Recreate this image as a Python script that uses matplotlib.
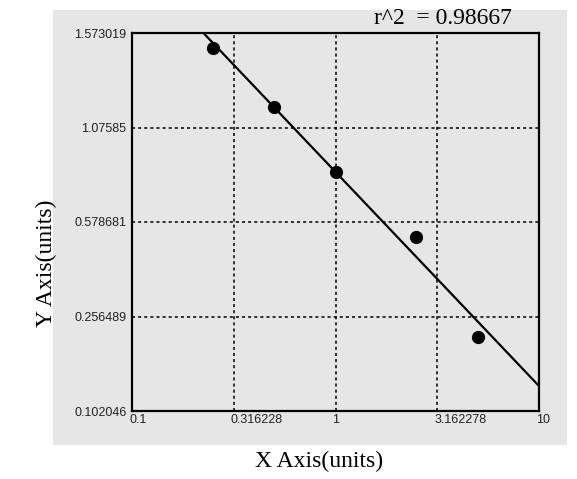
import numpy as np
import matplotlib
matplotlib.use("Agg")
import matplotlib.pyplot as plt
from matplotlib.patches import Rectangle
from matplotlib.transforms import ScaledTranslation

# ---- data ----
x_vals = [0.25, 0.5, 1.0, 2.5, 5.0]
y_vals = [1.494, 1.184, 0.842, 0.527, 0.223]
x_ticks = [0.1, 0.316228, 1.0, 3.162278, 10.0]
x_tick_labels = ["0.1", "0.316228", "1", "3.162278", "10"]
y_ticks = [0.102046, 0.256489, 0.578681, 1.07585, 1.573019]
y_tick_labels = ["0.102046", "0.256489", "0.578681", "1.07585", "1.573019"]
r2_text = "r^2  = 0.98667"

# piecewise-linear y scale (tick values evenly spaced on screen)
yt = np.array(y_ticks)
pos = np.arange(len(yt), dtype=float)
s_lo = yt[1] - yt[0]
s_hi = yt[-1] - yt[-2]


def fwd(y):
    y = np.asarray(y, dtype=float)
    return np.where(y < yt[0], (y - yt[0]) / s_lo,
                    np.where(y > yt[-1], pos[-1] + (y - yt[-1]) / s_hi,
                             np.interp(y, yt, pos)))


def inv(v):
    v = np.asarray(v, dtype=float)
    return np.where(v < 0, yt[0] + v * s_lo,
                    np.where(v > pos[-1], yt[-1] + (v - pos[-1]) * s_hi,
                             np.interp(v, pos, yt)))


W, H = 577, 479
fig = plt.figure(figsize=(W / 100, H / 100), dpi=100)
fig.patch.set_facecolor("white")

panel_col = "#e6e6e6"
fig.patches.append(Rectangle((53 / W, 1 - 445 / H), (567 - 53) / W, (445 - 10) / H,
                             transform=fig.transFigure, facecolor=panel_col,
                             edgecolor="none", zorder=-10))

ax = fig.add_axes([132 / W, 1 - 411 / H, 407 / W, 378 / H])
ax.set_zorder(1)
ax.set_facecolor(panel_col)
ax.set_xscale("log")
ax.set_yscale("function", functions=(fwd, inv))
ax.set_xlim(0.1, 10)
ax.set_ylim(yt[0], yt[-1])

ax.set_xticks(x_ticks)
ax.set_xticklabels(x_tick_labels)
ax.xaxis.set_minor_locator(matplotlib.ticker.NullLocator())
ax.set_yticks(y_ticks)
ax.set_yticklabels(y_tick_labels)
ax.yaxis.set_minor_locator(matplotlib.ticker.NullLocator())

ax.tick_params(axis="both", length=0, labelsize=9, labelcolor="#222222",
               labelfontfamily="Liberation Sans")
ax.tick_params(axis="x", pad=2)
ax.tick_params(axis="y", pad=4)
off = ScaledTranslation(-3 / 100, 0, fig.dpi_scale_trans)
for lab in ax.get_xticklabels():
    lab.set_horizontalalignment("left")
    lab.set_transform(lab.get_transform() + off)

ax.grid(True, color="black", linestyle=(0, (2, 2)), linewidth=1.1)
for sp in ax.spines.values():
    sp.set_color("black")
    sp.set_linewidth(1.6)

# fit in displayed coordinates
lx = np.log10(x_vals)
vy = fwd(y_vals)
slope, intercept = np.polyfit(lx, vy, 1)
line_x = np.array([0.1, 10.0])
line_y = inv(slope * np.log10(line_x) + intercept)
ax.plot(line_x, line_y, color="black", linewidth=1.6, zorder=3)

ax.plot(x_vals, y_vals, "o", color="black", markersize=8.5, zorder=4)

fig.text(319 / W, 1 - 461 / H, "X Axis(units)", ha="center", va="center",
         fontsize=17, family="Liberation Serif", zorder=5)
fig.text(46 / W, 1 - 263 / H, "Y Axis(units)", ha="center", va="center",
         rotation=90, fontsize=17, family="Liberation Serif", zorder=5)
fig.text(443 / W, 1 - 19 / H, r2_text, ha="center", va="center",
         fontsize=17, family="Liberation Serif", zorder=5)

fig.savefig("out.png", dpi=100)
